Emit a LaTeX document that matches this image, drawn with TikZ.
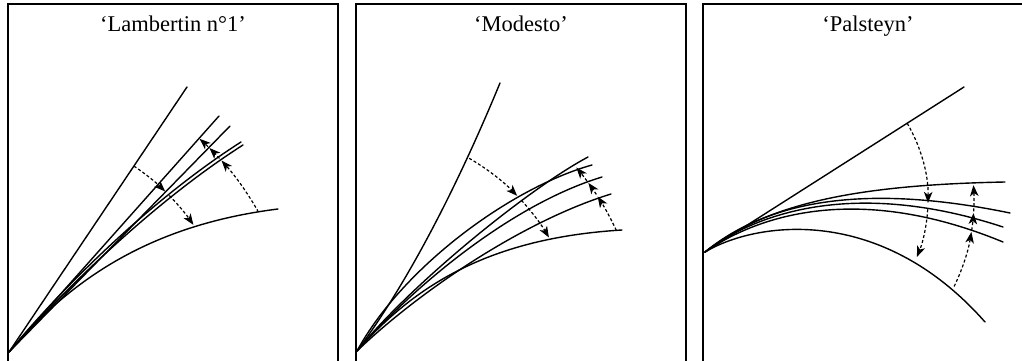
\documentclass[tikz,border=0pt]{standalone}
\usepackage{fontspec}
\setmainfont{Liberation Serif}
\usetikzlibrary{calc,arrows.meta}
\begin{document}
\begin{tikzpicture}[x=1pt,y=-1pt,
  curve/.style={line width=1.4pt, line cap=round},
  panel/.style={draw, line width=1.6pt},
  arr/.style={line width=1.2pt, dash pattern=on 3pt off 2.2pt, -{Stealth[length=11pt,width=8.5pt,inset=3pt]}},
  title/.style={font=\fontsize{22.5}{26}\selectfont, anchor=base, inner sep=0pt}]
\useasboundingbox (0,0) rectangle (1022,361);
\clip (0,0) rectangle (1022,361);
% ---------- panel 1
\coordinate (O1) at (9,352);
\draw[panel] (8,4) rectangle (338,380);
\node[title] (t1) at (173,32) {‘Lambertin n°1’};
\draw[curve] (O1) -- (187,87);
\draw[curve] (O1) -- (219,116);
\draw[curve] (O1) -- (230,126);
\draw[curve] (O1) .. controls (60,290) and (150,200) .. (241,142);
\draw[curve] (O1) .. controls (62,292) and (152,203) .. (243,145);
\draw[curve] (O1) .. controls (70,280) and (150,225) .. (278,209);
\draw[arr] ($(O1)+(-56.1:224)$) arc[start angle=-56.1, end angle=-45.8, radius=224];
\draw[arr] ($(O1)+(-44.3:224)$) arc[start angle=-44.3, end angle=-34.6, radius=224];
\draw[arr] ($(O1)+(-29.3:286)$) arc[start angle=-29.3, end angle=-42.0, radius=286];
\draw[arr] ($(O1)+(-42.6:286)$) arc[start angle=-42.6, end angle=-45.5, radius=286];
\draw[arr] ($(O1)+(-45.9:286)$) arc[start angle=-45.9, end angle=-48.2, radius=286];
% ---------- panel 2
\coordinate (O2) at (357,351);
\draw[panel] (356,4) rectangle (686,380);
\node[title] (t2) at (521,32) {‘Modesto’};
\draw[curve] (O2) .. controls (410,280) and (460,180) .. (500,83);
\draw[curve] (O2) .. controls (410,285) and (528,189) .. (588,157);
\draw[curve] (O2) .. controls (402,268) and (510,188) .. (592,165);
\draw[curve] (O2) .. controls (412,288) and (510,205) .. (602,177);
\draw[curve] (O2) .. controls (415,295) and (520,222) .. (611,194);
\draw[curve] (O2) .. controls (415,285) and (490,238) .. (622,230);
\draw[arr] ($(O2)+(-59.8:223)$) arc[start angle=-59.8, end angle=-44.1, radius=223];
\draw[arr] ($(O2)+(-42.5:223)$) arc[start angle=-42.5, end angle=-30.6, radius=223];
\draw[arr] ($(O2)+(-24.95:286)$) arc[start angle=-24.95, end angle=-32.7, radius=286];
\draw[arr] ($(O2)+(-33.2:286)$) arc[start angle=-33.2, end angle=-36.0, radius=286];
\draw[arr] ($(O2)+(-36.5:286)$) arc[start angle=-36.5, end angle=-39.9, radius=286];
% ---------- panel 3
\coordinate (O3) at (705,252);
\coordinate (C3) at (776,200);
\draw[panel] (703,4) rectangle (1033,380);
\node[title] (t3) at (868,32) {‘Palsteyn’};
\draw[curve] (O3) -- (964,87);
\draw[curve] (O3) .. controls (765,205) and (850,185) .. (1005,182);
\draw[curve] (O3) .. controls (760,207) and (850,180) .. (1010,213);
\draw[curve] (O3) .. controls (760,210) and (860,180) .. (1003,227);
\draw[curve] (O3) .. controls (760,214) and (860,183) .. (1003,242);
\draw[curve] (O3) .. controls (755,222) and (880,203) .. (985,322);
\draw[arr] ($(C3)+(-30.3:152)$) arc[start angle=-30.3, end angle=1.1, radius=152];
\draw[arr] ($(C3)+(3.5:152)$) arc[start angle=3.5, end angle=22, radius=152];
\draw[arr] ($(C3)+(25.9:198)$) arc[start angle=25.9, end angle=9.3, radius=198];
\draw[arr] ($(C3)+(8.8:198)$) arc[start angle=8.8, end angle=3.8, radius=198];
\draw[arr] ($(C3)+(3.3:198)$) arc[start angle=3.3, end angle=-4.3, radius=198];
\end{tikzpicture}
\end{document}
